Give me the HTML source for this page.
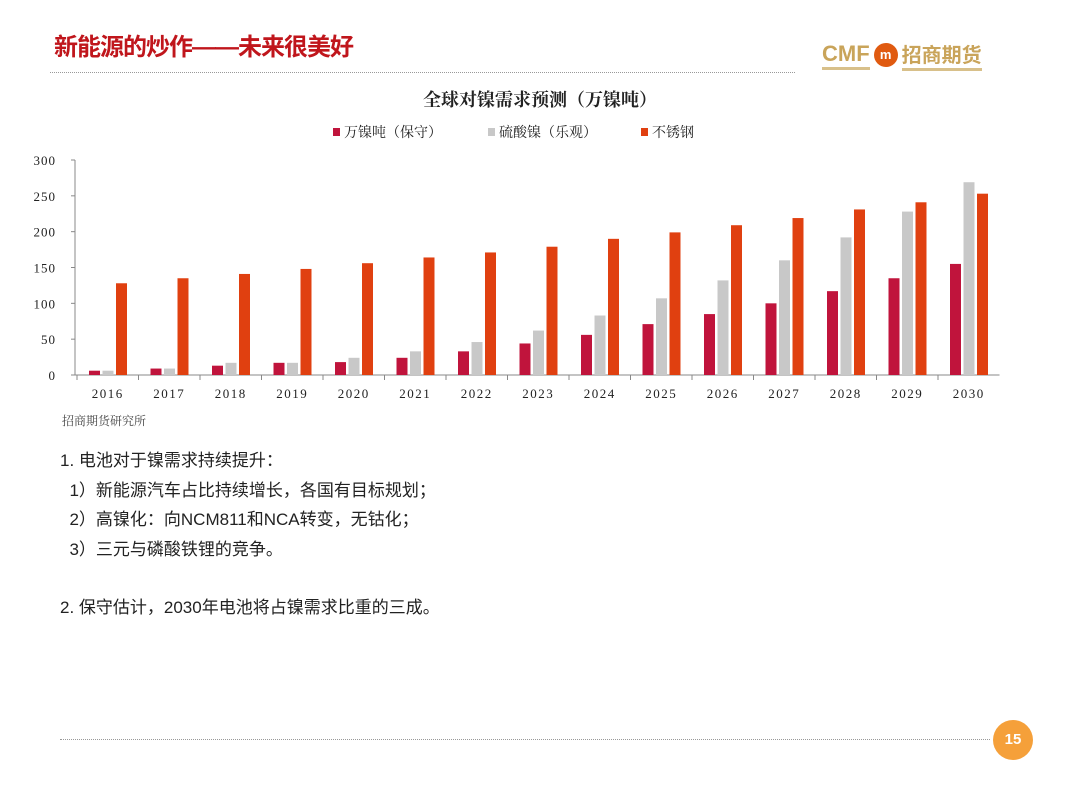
<!DOCTYPE html>
<html><head><meta charset="utf-8"><style>
body{margin:0;width:1080px;height:786px;background:#fff;position:relative;overflow:hidden;font-family:"Liberation Sans","Noto Sans CJK SC",sans-serif}
.abs{position:absolute}
.title{left:54px;top:27px;font-size:24px;font-weight:bold;color:#c0161c;letter-spacing:-1px}
.txt{font-family:"Liberation Sans","Noto Sans CJK SC",sans-serif;font-size:17px;color:#222}
</style></head><body>
<div class="abs title">新能源的炒作——未来很美好</div>
<div class="abs" style="left:50px;top:72px;width:745px;border-top:1px dotted #999"></div>
<div class="abs" style="left:822px;top:40px;height:30px;display:flex;align-items:center;gap:4px;font-size:22px;font-weight:bold;color:#c9a45a">
<span style="border-bottom:3px solid #d8c08a">CMF</span><span style="display:inline-block;width:24px;height:24px;border-radius:50%;background:#e05a10;color:#fff;font-size:13px;text-align:center;line-height:24px">m</span><span style="border-bottom:3px solid #d8c08a;font-size:20px">招商期货</span></div>
<svg class="abs" style="left:0;top:0" width="1080" height="786" id="chart"></svg>
<div class="abs" style="left:62px;top:412px;font-size:12px;color:#444;font-family:'Liberation Serif','Noto Serif CJK SC',serif">招商期货研究所</div>
<div class="abs txt" style="left:60px;top:446px;line-height:29.5px">
1. 电池对于镍需求持续提升：<br>
&nbsp;&nbsp;1）新能源汽车占比持续增长，各国有目标规划；<br>
&nbsp;&nbsp;2）高镍化：向NCM811和NCA转变，无钴化；<br>
&nbsp;&nbsp;3）三元与磷酸铁锂的竞争。<br>
<div style="height:29px"></div>
2. 保守估计，2030年电池将占镍需求比重的三成。
</div>
<div class="abs" style="left:60px;top:739px;width:930px;border-top:1px dotted #999"></div>
<div class="abs" style="left:993px;top:720px;width:40px;height:40px;border-radius:50%;background:#f5a03a;color:#fff;font-weight:bold;font-size:15px;text-align:center;line-height:40px">15</div>
<script>
const categories=["2016","2017","2018","2019","2020","2021","2022","2023","2024","2025","2026","2027","2028","2029","2030"];
const conservative=[6,9,13,17,18,24,33,44,56,71,85,100,117,135,155];
const optimistic=[6,9,17,17,24,33,46,62,83,107,132,160,192,228,269];
const stainless=[128,135,141,148,156,164,171,179,190,199,209,219,231,241,253];
const yTicks=[0,50,100,150,200,250,300];
const seriesNames=["万镍吨（保守）","硫酸镍（乐观）","不锈钢"];
const colors=["#c0143c","#c8c8c8","#e04010"];
const NS="http://www.w3.org/2000/svg";
const svg=document.getElementById('chart');
const x0=77,step=61.5,yBase=375,yTop=160,yMax=300;
const y=v=>yBase-(v/yMax)*(yBase-yTop);
const xc=i=>x0+i*step;
function mk(t,a,p){const e=document.createElementNS(NS,t);for(const k in a)e.setAttribute(k,a[k]);(p||svg).appendChild(e);return e;}
const serif='"Liberation Serif","Noto Serif CJK SC",serif';
let t=mk('text',{x:540,y:106,'text-anchor':'middle','font-size':18,'font-weight':'bold','font-family':serif,fill:'#222'});t.textContent='全球对镍需求预测（万镍吨）';

const lx=[333,488,641];
seriesNames.forEach((n,i)=>{const g=mk('g',{});

mk('rect',{x:lx[i],y:128,width:7,height:8,fill:colors[i]},g);
const tt=mk('text',{x:lx[i]+11,y:137,'font-size':14,'font-family':serif,fill:'#222'},g);tt.textContent=n;});
const ax=mk('line',{x1:x0-2,y1:yTop,x2:x0-2,y2:yBase,stroke:'#888'});

const bx=mk('line',{x1:x0-2,y1:yBase,x2:x0+15*step,y2:yBase,stroke:'#888'});

yTicks.forEach(v=>{mk('line',{x1:x0-6,y1:y(v),x2:x0-2,y2:y(v),stroke:'#888'});
const e=mk('text',{x:56,y:y(v)+5,'text-anchor':'end','font-size':13,'font-family':serif,fill:'#222','letter-spacing':1});e.textContent=v;
});
categories.forEach((c,i)=>{mk('line',{x1:xc(i),y1:yBase,x2:xc(i),y2:yBase+5,stroke:'#888'});
const e=mk('text',{x:xc(i)+step/2,y:398,'text-anchor':'middle','font-size':13,'font-family':serif,fill:'#222','letter-spacing':1.5});e.textContent=c;

[conservative,optimistic,stainless].forEach((s,k)=>{const r=mk('rect',{x:xc(i)+12+k*13.5,y:y(s[i]),width:11,height:yBase-y(s[i]),fill:colors[k]});
});});
</script>
</body></html>
